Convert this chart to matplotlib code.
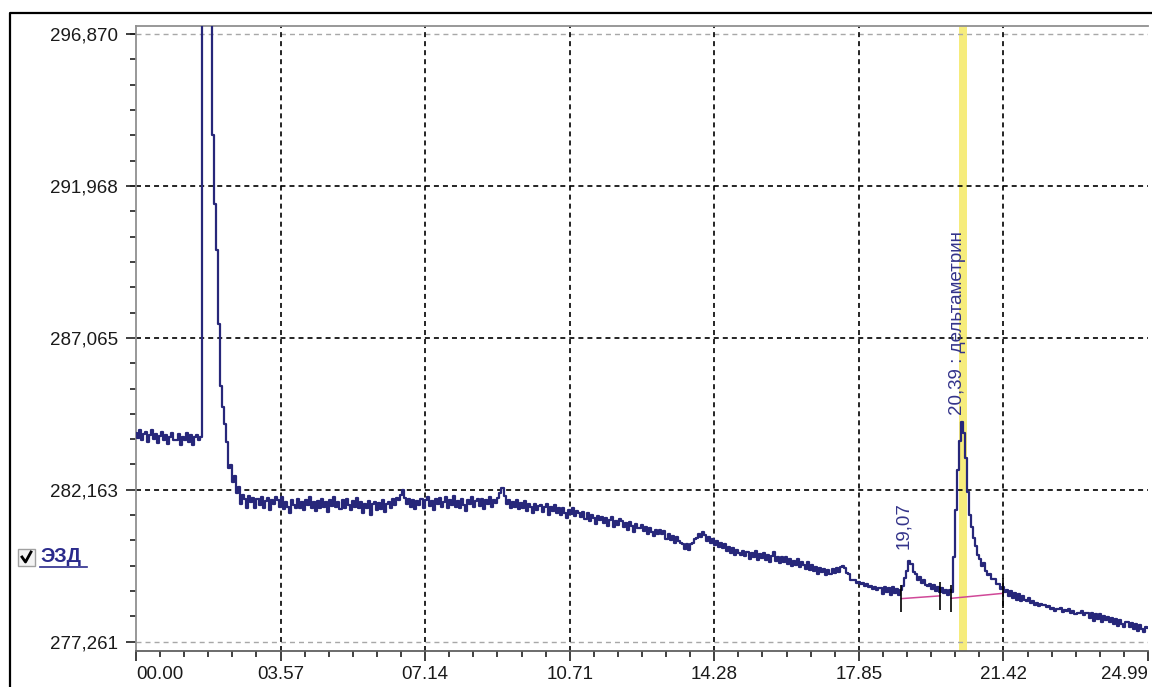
import numpy as np
import matplotlib
matplotlib.use('Agg')
import matplotlib.pyplot as plt
from matplotlib.ticker import FixedLocator, AutoMinorLocator
from matplotlib.lines import Line2D
from matplotlib.patches import Rectangle

plt.rcParams['font.family'] = ['Liberation Sans', 'DejaVu Sans']
plt.rcParams['lines.scale_dashes'] = False

# detector signal, one value every 0.05 min
signal = [
    283.98, 283.82, 284.08, 283.76, 283.95, 284.04, 283.72, 283.92, 284.08, 283.80,
    283.96, 283.68, 283.90, 284.02, 283.76, 283.94, 283.64, 283.88, 283.98, 283.78,
    283.76, 283.96, 283.62, 283.88, 283.78, 283.98, 283.70, 283.92, 283.62, 283.86,
    283.92, 283.78, 283.87, 300.50, 301.00, 301.00, 300.80, 299.50, 293.60, 291.40,
    289.90, 287.50, 285.50, 284.85, 284.30, 283.70, 282.85, 282.95, 282.40, 282.60,
    282.05, 282.25, 281.70, 282.00, 281.85, 281.58, 281.95, 281.76, 281.90, 281.56,
    281.86, 281.66, 281.94, 281.58, 281.80, 281.90, 281.50, 281.82, 281.72, 281.92,
    281.84, 281.62, 281.92, 281.54, 281.78, 281.60, 281.42, 281.82, 281.68, 281.58,
    281.86, 281.58, 281.76, 281.50, 281.82, 281.66, 281.92, 281.56, 281.78, 281.48,
    281.80, 281.56, 281.86, 281.62, 281.76, 281.46, 281.84, 281.64, 281.94, 281.60,
    281.78, 281.54, 281.82, 281.58, 281.88, 281.68, 281.50, 281.80, 281.60, 281.90,
    281.58, 281.76, 281.40, 281.72, 281.58, 281.80, 281.36, 281.70, 281.76, 281.52,
    281.74, 281.54, 281.82, 281.46, 281.70, 281.78, 281.58, 281.86, 281.66, 281.90,
    281.82, 282.00, 282.15, 281.90, 281.70, 281.86, 281.62, 281.82, 281.54, 281.80,
    281.68, 281.88, 281.58, 281.82, 281.94, 281.64, 281.80, 281.52, 281.86, 281.72,
    281.90, 281.60, 281.78, 281.92, 281.56, 281.84, 281.68, 281.96, 281.62, 281.80,
    281.58, 281.86, 281.68, 281.48, 281.82, 281.72, 281.92, 281.60, 281.80, 281.88,
    281.64, 281.86, 281.54, 281.82, 281.70, 281.92, 281.62, 281.84, 281.74, 281.90,
    282.05, 282.22, 281.95, 281.70, 281.82, 281.58, 281.78, 281.62, 281.84, 281.54,
    281.74, 281.56, 281.80, 281.48, 281.70, 281.62, 281.40, 281.72, 281.52, 281.64,
    281.68, 281.44, 281.62, 281.72, 281.36, 281.60, 281.48, 281.66, 281.41, 281.57,
    281.36, 281.58, 281.42, 281.26, 281.52, 281.38, 281.57, 281.32, 281.48, 281.40,
    281.28, 281.46, 281.22, 281.40, 281.16, 281.36, 281.26, 281.06, 281.32, 281.20,
    281.28, 281.08, 281.24, 281.01, 281.20, 281.27, 280.96, 281.17, 281.04, 281.22,
    281.14, 280.96, 281.10, 280.88, 281.12, 281.00, 280.81, 281.07, 280.92, 280.92,
    281.02, 280.82, 280.97, 280.74, 280.92, 280.80, 280.66, 280.88, 280.74, 280.86,
    280.74, 280.82, 280.58, 280.72, 280.54, 280.68, 280.46, 280.64, 280.51, 280.46,
    280.40, 280.26, 280.40, 280.21, 280.42, 280.46, 280.57, 280.60, 280.72, 280.63,
    280.80, 280.70, 280.52, 280.64, 280.44, 280.57, 280.38, 280.52, 280.32, 280.46,
    280.28, 280.40, 280.18, 280.32, 280.11, 280.28, 280.06, 280.22, 280.12, 280.07,
    280.20, 280.02, 280.16, 279.92, 280.12, 280.00, 280.18, 279.90, 280.10, 279.96,
    280.12, 279.91, 280.06, 279.84, 280.02, 280.14, 279.88, 280.00, 279.80, 279.98,
    279.84, 279.98, 279.76, 279.92, 279.70, 279.88, 279.74, 279.94, 279.66, 279.84,
    279.74, 279.62, 279.82, 279.56, 279.74, 279.54, 279.68, 279.46, 279.64, 279.50,
    279.60, 279.42, 279.57, 279.44, 279.60, 279.48, 279.64, 279.52, 279.68, 279.70,
    279.64, 279.48, 279.44, 279.26, 279.24, 279.26, 279.16, 279.20, 279.12, 279.14,
    279.07, 279.12, 279.02, 279.06, 278.97, 279.02, 278.92, 279.00, 279.00, 278.81,
    279.04, 278.86, 279.00, 278.78, 279.02, 278.82, 278.97, 278.76, 278.94, 279.05,
    279.30, 279.55, 279.85, 279.78, 279.50, 279.44, 279.26, 279.34, 279.16, 279.24,
    279.10, 279.07, 279.13, 278.96, 279.08, 278.90, 279.04, 278.86, 278.98, 278.82,
    278.94, 278.78, 278.92, 278.85, 280.00, 281.50, 282.80, 283.75, 284.35, 284.00,
    283.20, 282.10, 281.35, 280.95, 280.60, 280.35, 280.05, 279.92, 279.70, 279.80,
    279.53, 279.42, 279.43, 279.27, 279.28, 279.12, 279.13, 278.97, 279.03, 278.87,
    278.94, 278.72, 278.90, 278.66, 278.84, 278.60, 278.80, 278.56, 278.74, 278.62,
    278.58, 278.66, 278.52, 278.58, 278.46, 278.52, 278.40, 278.48, 278.44, 278.44,
    278.38, 278.42, 278.32, 278.36, 278.26, 278.32, 278.30, 278.34, 278.22, 278.28,
    278.24, 278.30, 278.18, 278.24, 278.14, 278.20, 278.20, 278.26, 278.12, 278.18,
    278.20, 278.02, 278.18, 277.94, 278.14, 278.00, 278.16, 277.88, 278.08, 277.96,
    278.06, 277.88, 278.02, 277.82, 277.98, 277.76, 277.96, 277.84, 277.72, 277.88,
    277.88, 277.72, 277.86, 277.66, 277.82, 277.62, 277.80, 277.68, 277.58, 277.72,
    277.70,
]
time = np.arange(len(signal)) * 0.05

x_ticks = [0.0, 3.57, 7.14, 10.71, 14.28, 17.85, 21.42, 24.99]
x_labels = ['00.00', '03.57', '07.14', '10.71', '14.28', '17.85', '21.42', '24.99']
y_ticks = [277.261, 282.163, 287.065, 291.968, 296.870]
y_labels = ['277,261', '282,163', '287,065', '291,968', '296,870']

# identified peaks: retention time, apex value, label
peak_times = [19.10, 20.40]
peak_tops = [279.85, 284.35]
peak_labels = ['19,07', '20,39 : дельтаметрин']
peak_offsets = [(-4, 9), (-3, 5)]

# integration baselines and start/end markers
base_t = [[18.90, 19.86], [20.13, 21.40]]
base_v = [[278.65, 278.74], [278.66, 278.82]]
mark_t = [18.90, 19.86, 20.13, 21.40]
mark_lo = [278.22, 278.29, 278.22, 278.35]
mark_hi = [279.09, 279.19, 279.09, 279.32]

band = (20.33, 20.51)

navy = '#27277a'
W, H = 1152, 687
fig = plt.figure(figsize=(W / 100, H / 100), dpi=100)
fig.patch.set_facecolor('white')
ax = fig.add_axes([136 / W, 1 - 651 / H, (1148 - 136) / W, (651 - 26) / H])

ax.axvspan(band[0], band[1], color='#f6ec7c', zorder=0.5, lw=0)

for v in y_ticks:
    if v in (y_ticks[0], y_ticks[-1]):
        ax.axhline(v, color='#a8a8a8', lw=1.0, dashes=(3.6, 2.9), zorder=1)
    else:
        ax.axhline(v, color='black', lw=1.2, dashes=(3.6, 2.9), zorder=1)
for t in x_ticks[1:-1]:
    ax.axvline(t, color='black', lw=1.2, dashes=(3.6, 2.9), zorder=1)

ax.plot(time, signal, color=navy, lw=1.6, drawstyle='steps-mid', zorder=3)

for bt, bv in zip(base_t, base_v):
    ax.plot(bt, bv, color='#d04898', lw=1.1, zorder=4)
ax.vlines(mark_t, mark_lo, mark_hi, color='black', lw=1.2, zorder=5)

for t, v, lab, off in zip(peak_times, peak_tops, peak_labels, peak_offsets):
    ax.annotate(lab, (t, v), xytext=off, textcoords='offset points',
                rotation=90, ha='center', va='bottom', fontsize=13.5,
                color='#34348a', zorder=6)

ax.set_xlim(0, 24.99)
ax.set_ylim(276.96, 297.13)

ax.xaxis.set_major_locator(FixedLocator(x_ticks))
ax.set_xticklabels(x_labels)
ax.xaxis.set_minor_locator(AutoMinorLocator(6))
ax.yaxis.set_major_locator(FixedLocator(y_ticks))
ax.set_yticklabels(y_labels)
ax.yaxis.set_minor_locator(AutoMinorLocator(6))

ax.tick_params(which='major', length=7.5, width=1.2, color='#202020',
               labelsize=13.5, labelcolor='#1a1a1a')
ax.tick_params(which='minor', length=4.5, width=1.2, color='#202020')
ax.tick_params(axis='y', which='major', pad=5.5)
ax.tick_params(axis='x', which='major', pad=3.5)

labels = ax.get_xticklabels()
labels[0].set_ha('left')
labels[-1].set_ha('right')

ax.spines['right'].set_visible(False)
ax.spines['left'].set_color('#909090')
ax.spines['top'].set_color('#909090')
ax.spines['bottom'].set_color('#606060')
for s in ('left', 'top', 'bottom'):
    ax.spines[s].set_linewidth(1.3)

# outer window frame
fig.add_artist(Line2D([10 / W, 10 / W, 1.0], [0.0, 1 - 13 / H, 1 - 13 / H],
                      color='black', lw=1.6, transform=fig.transFigure))

# series checkbox + name
fig.add_artist(Rectangle((18 / W, 1 - 566 / H), 17 / W, 17 / H, facecolor='#f4f4f4',
                         edgecolor='#a0a0a0', lw=1.0, transform=fig.transFigure))
fig.add_artist(Line2D([22 / W, 25.5 / W, 31 / W], [1 - 557 / H, 1 - 562 / H, 1 - 552 / H],
                      color='black', lw=2.0, transform=fig.transFigure))
fig.text(40 / W, 1 - 557 / H, 'ЭЗД', fontsize=14.5, fontweight='bold', color='#2b2b8c',
         ha='left', va='center')
fig.add_artist(Line2D([40 / W, 87 / W], [1 - 567 / H, 1 - 567 / H],
                      color='#2b2b8c', lw=1.2, transform=fig.transFigure))

fig.savefig('out.png', dpi=100)
